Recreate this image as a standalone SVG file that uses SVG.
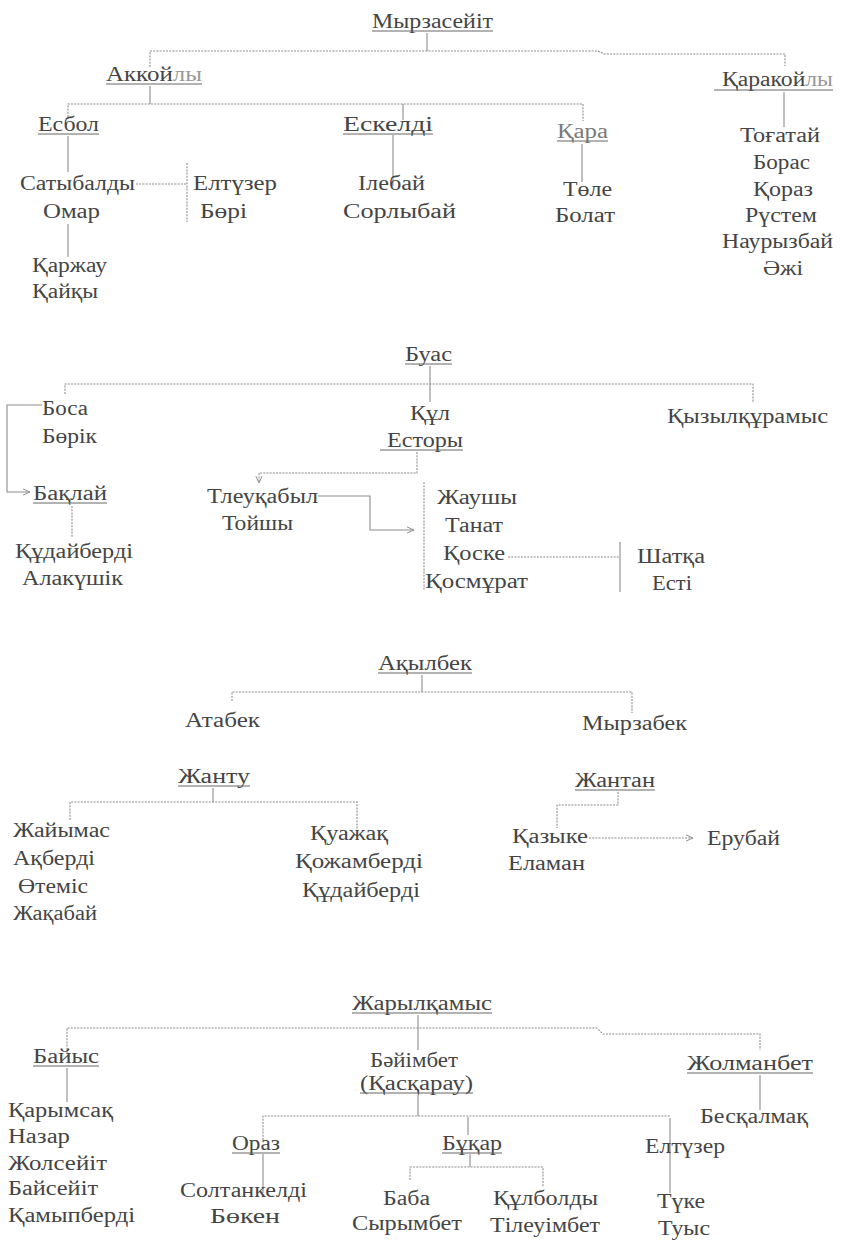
<svg xmlns="http://www.w3.org/2000/svg" width="841" height="1240" viewBox="0 0 841 1240">
<style>
text{font-family:'Times New Roman',Times,'Liberation Serif',Tinos,'DejaVu Serif','Noto Serif',FreeSerif,serif;font-size:20px;fill:#454545}
.lt{fill:#9a9a9a}
.u{stroke:#666;stroke-width:1}
.c{fill:none;stroke:#8c8c8c;stroke-width:1.1}
.d{fill:none;stroke:#8c8c8c;stroke-width:1.1;stroke-dasharray:2 1.2}
</style>
<defs>
<marker id="arr" viewBox="0 0 10 10" refX="9" refY="5" markerWidth="8" markerHeight="8" orient="auto" markerUnits="userSpaceOnUse">
<path d="M0,1 L9,5 L0,9" fill="none" stroke="#8c8c8c" stroke-width="1.2"/>
</marker>
</defs>
<rect width="841" height="1240" fill="#ffffff"/>

<g id="connectors">
<path class="c" d="M427,33 V51"/>
<path class="d" d="M150,67 V51 H598 L604,54 H785 V66"/>
<path class="c" d="M150,86 V104"/>
<path class="d" d="M68,117 V104 H583 V121"/>
<path class="c" d="M403,104 V120"/>
<path class="c" d="M68,136 V172"/>
<path class="d" d="M136,184 H186"/>
<path class="d" d="M187,163 V222"/>
<path class="c" d="M68,224 V257"/>
<path class="c" d="M393,135 V186"/>
<path class="c" d="M582,144 V182"/>
<path class="c" d="M784,92 V127"/>
<path class="c" d="M430,366 V402"/>
<path class="d" d="M65,394 V384 H753 V403"/>
<path class="c" d="M42,405 H7 V492 H30" marker-end="url(#arr)"/>
<path class="d" d="M72,506 V537"/>
<path class="d" d="M417,452 V473 H259 V483" marker-end="url(#arr)"/>
<path class="c" d="M318,496 H370 V530 H414" marker-end="url(#arr)"/>
<path class="d" d="M424,482 V590"/>
<path class="d" d="M508,557 H620"/>
<path class="c" d="M620,542 V592"/>
<path class="c" d="M422,675 V692"/>
<path class="d" d="M232,701 V692 H632 V713"/>
<path class="c" d="M213,788 V802"/>
<path class="d" d="M70,820 V802 H357 V830"/>
<path class="d" d="M618,792 V805 H557 V828"/>
<path class="d" d="M589,838 H693" marker-end="url(#arr)"/>
<path class="c" d="M418,1015 V1050"/>
<path class="d" d="M67,1053 V1028 H597 L603,1034 H760 V1050"/>
<path class="c" d="M760,1075 V1110"/>
<path class="c" d="M67,1068 V1102"/>
<path class="c" d="M418,1095 V1116"/>
<path class="d" d="M263,1140 V1116 H670"/>
<path class="c" d="M670,1118 V1193"/>
<path class="c" d="M468,1117 V1135"/>
<path class="c" d="M263,1154 V1193"/>
<path class="c" d="M470,1154 V1167"/>
<path class="d" d="M410,1180 V1167 H543 V1187"/>
</g>

<g id="myrzaseiit"><text x="372" y="28" textLength="121" lengthAdjust="spacingAndGlyphs">Мырзасейіт</text><line class="u" x1="372" y1="31" x2="493" y2="31"/></g>
<g id="akkoily"><text x="106" y="81" textLength="96" lengthAdjust="spacingAndGlyphs">Аккой<tspan class="lt">лы</tspan></text><line class="u" x1="106" y1="84" x2="202" y2="84"/></g>
<g id="karakoily"><text x="722" y="86" textLength="111" lengthAdjust="spacingAndGlyphs">Қаракой<tspan class="lt">лы</tspan></text><line class="u" x1="714" y1="90" x2="833" y2="90"/></g>
<g id="esbol"><text x="38" y="131" textLength="61" lengthAdjust="spacingAndGlyphs">Есбол</text><line class="u" x1="38" y1="134" x2="99" y2="134"/></g>
<g id="eskeldi"><text x="343" y="131" textLength="90" lengthAdjust="spacingAndGlyphs">Ескелді</text><line class="u" x1="343" y1="134" x2="433" y2="134"/></g>
<g id="kara"><text x="557" y="138" textLength="51" lengthAdjust="spacingAndGlyphs" style="fill:#7a7a7a">Қара</text><line class="u" x1="557" y1="141" x2="608" y2="141"/></g>
<g id="satybaldy"><text x="20" y="190" textLength="115" lengthAdjust="spacingAndGlyphs">Сатыбалды</text><text x="43" y="218" textLength="57" lengthAdjust="spacingAndGlyphs">Омар</text></g>
<g id="eltuzer1"><text x="193" y="190" textLength="84" lengthAdjust="spacingAndGlyphs">Елтүзер</text><text x="200" y="218" textLength="47" lengthAdjust="spacingAndGlyphs">Бөрі</text></g>
<g id="karzhau"><text x="32" y="272" textLength="75" lengthAdjust="spacingAndGlyphs">Қаржау</text><text x="32" y="298" textLength="66" lengthAdjust="spacingAndGlyphs">Қайқы</text></g>
<g id="ilebai"><text x="358" y="190" textLength="67" lengthAdjust="spacingAndGlyphs">Ілебай</text><text x="343" y="218" textLength="113" lengthAdjust="spacingAndGlyphs">Сорлыбай</text></g>
<g id="tole"><text x="563" y="196" textLength="49" lengthAdjust="spacingAndGlyphs">Төле</text><text x="555" y="222" textLength="60" lengthAdjust="spacingAndGlyphs">Болат</text></g>
<g id="togatai"><text x="740" y="142" textLength="80" lengthAdjust="spacingAndGlyphs">Тоғатай</text><text x="753" y="169" textLength="57" lengthAdjust="spacingAndGlyphs">Борас</text><text x="753" y="196" textLength="60" lengthAdjust="spacingAndGlyphs">Қораз</text><text x="745" y="222" textLength="72" lengthAdjust="spacingAndGlyphs">Рүстем</text><text x="722" y="248" textLength="111" lengthAdjust="spacingAndGlyphs">Наурызбай</text><text x="763" y="275" textLength="40" lengthAdjust="spacingAndGlyphs">Әжі</text></g>

<g id="buas"><text x="405" y="361" textLength="47" lengthAdjust="spacingAndGlyphs">Буас</text><line class="u" x1="405" y1="364" x2="452" y2="364"/></g>
<g id="bosa"><text x="42" y="415" textLength="46" lengthAdjust="spacingAndGlyphs">Боса</text><text x="42" y="443" textLength="55" lengthAdjust="spacingAndGlyphs">Бөрік</text></g>
<g id="baklai"><text x="33" y="500" textLength="74" lengthAdjust="spacingAndGlyphs">Бақлай</text><line class="u" x1="33" y1="503" x2="107" y2="503"/></g>
<g id="kudaiberdi1"><text x="15" y="558" textLength="118" lengthAdjust="spacingAndGlyphs">Құдайберді</text><text x="22" y="585" textLength="101" lengthAdjust="spacingAndGlyphs">Алакүшік</text></g>
<g id="kul"><text x="410" y="420" textLength="40" lengthAdjust="spacingAndGlyphs">Құл</text></g>
<g id="estory"><text x="387" y="447" textLength="76" lengthAdjust="spacingAndGlyphs">Есторы</text><line class="u" x1="380" y1="450" x2="463" y2="450"/></g>
<g id="tleukabyl"><text x="207" y="503" textLength="111" lengthAdjust="spacingAndGlyphs">Тлеуқабыл</text><text x="222" y="530" textLength="71" lengthAdjust="spacingAndGlyphs">Тойшы</text></g>
<g id="zhaushy"><text x="437" y="504" textLength="80" lengthAdjust="spacingAndGlyphs">Жаушы</text><text x="445" y="532" textLength="58" lengthAdjust="spacingAndGlyphs">Танат</text><text x="443" y="560" textLength="62" lengthAdjust="spacingAndGlyphs">Қоске</text><text x="425" y="588" textLength="103" lengthAdjust="spacingAndGlyphs">Қосмұрат</text></g>
<g id="shatka"><text x="637" y="563" textLength="68" lengthAdjust="spacingAndGlyphs">Шатқа</text><text x="652" y="590" textLength="40" lengthAdjust="spacingAndGlyphs">Есті</text></g>
<g id="kyzylkuramys"><text x="667" y="423" textLength="161" lengthAdjust="spacingAndGlyphs">Қызылқұрамыс</text></g>

<g id="akylbek"><text x="378" y="670" textLength="94" lengthAdjust="spacingAndGlyphs">Ақылбек</text><line class="u" x1="378" y1="673" x2="472" y2="673"/></g>
<g id="atabek"><text x="185" y="727" textLength="75" lengthAdjust="spacingAndGlyphs">Атабек</text></g>
<g id="myrzabek"><text x="582" y="730" textLength="105" lengthAdjust="spacingAndGlyphs">Мырзабек</text></g>
<g id="zhantu"><text x="178" y="783" textLength="72" lengthAdjust="spacingAndGlyphs">Жанту</text><line class="u" x1="178" y1="786" x2="250" y2="786"/></g>
<g id="zhaiymas"><text x="13" y="837" textLength="97" lengthAdjust="spacingAndGlyphs">Жайымас</text><text x="13" y="865" textLength="82" lengthAdjust="spacingAndGlyphs">Ақберді</text><text x="18" y="893" textLength="70" lengthAdjust="spacingAndGlyphs">Өтеміс</text><text x="13" y="920" textLength="84" lengthAdjust="spacingAndGlyphs">Жақабай</text></g>
<g id="kuazhak"><text x="310" y="840" textLength="78" lengthAdjust="spacingAndGlyphs">Қуажақ</text><text x="295" y="868" textLength="128" lengthAdjust="spacingAndGlyphs">Қожамберді</text><text x="302" y="897" textLength="118" lengthAdjust="spacingAndGlyphs">Құдайберді</text></g>
<g id="zhantan"><text x="575" y="787" textLength="80" lengthAdjust="spacingAndGlyphs">Жантан</text><line class="u" x1="575" y1="790" x2="655" y2="790"/></g>
<g id="kazyke"><text x="512" y="843" textLength="76" lengthAdjust="spacingAndGlyphs">Қазыке</text><text x="508" y="870" textLength="77" lengthAdjust="spacingAndGlyphs">Еламан</text></g>
<g id="erubai"><text x="707" y="845" textLength="73" lengthAdjust="spacingAndGlyphs">Ерубай</text></g>

<g id="zharylkamys"><text x="352" y="1010" textLength="140" lengthAdjust="spacingAndGlyphs">Жарылқамыс</text><line class="u" x1="352" y1="1013" x2="492" y2="1013"/></g>
<g id="baiys"><text x="33" y="1063" textLength="66" lengthAdjust="spacingAndGlyphs">Байыс</text><line class="u" x1="33" y1="1066" x2="99" y2="1066"/></g>
<g id="karymsak"><text x="8" y="1117" textLength="105" lengthAdjust="spacingAndGlyphs">Қарымсақ</text><text x="8" y="1143" textLength="62" lengthAdjust="spacingAndGlyphs">Назар</text><text x="8" y="1170" textLength="99" lengthAdjust="spacingAndGlyphs">Жолсейіт</text><text x="8" y="1195" textLength="90" lengthAdjust="spacingAndGlyphs">Байсейіт</text><text x="8" y="1222" textLength="127" lengthAdjust="spacingAndGlyphs">Қамыпберді</text></g>
<g id="baiimbet"><text x="370" y="1067" textLength="88" lengthAdjust="spacingAndGlyphs">Бәйімбет</text><text x="360" y="1090" textLength="113" lengthAdjust="spacingAndGlyphs">(Қасқарау)</text><line class="u" x1="360" y1="1093" x2="473" y2="1093"/></g>
<g id="zholmanbet"><text x="687" y="1070" textLength="126" lengthAdjust="spacingAndGlyphs">Жолманбет</text><line class="u" x1="687" y1="1073" x2="813" y2="1073"/></g>
<g id="beskalmak"><text x="700" y="1123" textLength="108" lengthAdjust="spacingAndGlyphs">Бесқалмақ</text></g>
<g id="oraz"><text x="232" y="1150" textLength="48" lengthAdjust="spacingAndGlyphs">Ораз</text><line class="u" x1="232" y1="1153" x2="280" y2="1153"/></g>
<g id="soltankeldi"><text x="180" y="1197" textLength="127" lengthAdjust="spacingAndGlyphs">Солтанкелді</text><text x="210" y="1223" textLength="70" lengthAdjust="spacingAndGlyphs">Бөкен</text></g>
<g id="bukar"><text x="442" y="1150" textLength="60" lengthAdjust="spacingAndGlyphs">Бұқар</text><line class="u" x1="442" y1="1153" x2="502" y2="1153"/></g>
<g id="baba"><text x="383" y="1205" textLength="47" lengthAdjust="spacingAndGlyphs">Баба</text><text x="352" y="1230" textLength="110" lengthAdjust="spacingAndGlyphs">Сырымбет</text></g>
<g id="kulboldy"><text x="493" y="1205" textLength="105" lengthAdjust="spacingAndGlyphs">Құлболды</text><text x="490" y="1232" textLength="110" lengthAdjust="spacingAndGlyphs">Тілеуімбет</text></g>
<g id="eltuzer2"><text x="645" y="1153" textLength="80" lengthAdjust="spacingAndGlyphs">Елтүзер</text></g>
<g id="tuke"><text x="657" y="1208" textLength="48" lengthAdjust="spacingAndGlyphs">Түке</text><text x="658" y="1235" textLength="52" lengthAdjust="spacingAndGlyphs">Туыс</text></g>
</svg>
